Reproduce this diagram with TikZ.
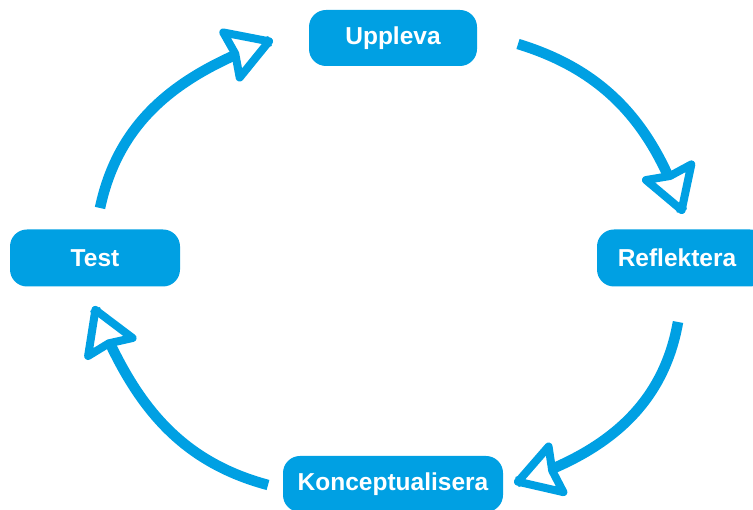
\documentclass[tikz,border=0pt]{standalone}
\usepackage{fontspec}
\setmainfont{Liberation Sans}
\usetikzlibrary{decorations.markings}
\definecolor{cyclblue}{RGB}{0,160,227}
\begin{document}
\begin{tikzpicture}[x=1pt,y=1pt,
  stage/.style={fill=cyclblue, rounded corners=17pt, text=white,
    font=\fontsize{24.5}{28}\selectfont\bfseries, inner sep=0pt},
  % hollow arrowhead drawn at the end of each connector
  openhead/.style={decoration={markings, mark=at position 1 with {
      \filldraw[fill=white, draw=cyclblue, line width=8pt, line join=round]
        (-1,0) -- (-41,24) -- (-37,0) -- (-41,-24) -- cycle;}},
    postaction={decorate}},
  flow/.style={draw=cyclblue, line width=10.5pt, openhead}]
\useasboundingbox (0,0) rectangle (753,510);

% the four stages of the cycle
\node[stage, minimum width=168pt, minimum height=56pt] (upp)  at (393,472) {Uppleva};
\node[stage, minimum width=170pt, minimum height=57pt] (ref)  at (682,252) {Reflektera\hspace*{10pt}};
\node[stage, minimum width=220pt, minimum height=56pt] (kon)  at (393,26)  {Konceptualisera};
\node[stage, minimum width=170pt, minimum height=57pt] (test) at (95,252)  {Test};

% ends of the curved connectors
\coordinate (a1s) at (100,302); \coordinate (a1e) at (270,469);
\coordinate (a2s) at (518,466); \coordinate (a2e) at (682,299);
\coordinate (a3s) at (678,188); \coordinate (a3e) at (517,28);
\coordinate (a4s) at (268,25);  \coordinate (a4e) at (95,201);

\draw[flow] (a1s) to[out=78,in=200] (a1e);
\draw[flow] (a2s) to[out=-17,in=109] (a2e);
\draw[flow] (a3s) to[out=-100,in=18] (a3e);
\draw[flow] (a4s) to[out=165,in=292] (a4e);
\end{tikzpicture}
\end{document}
